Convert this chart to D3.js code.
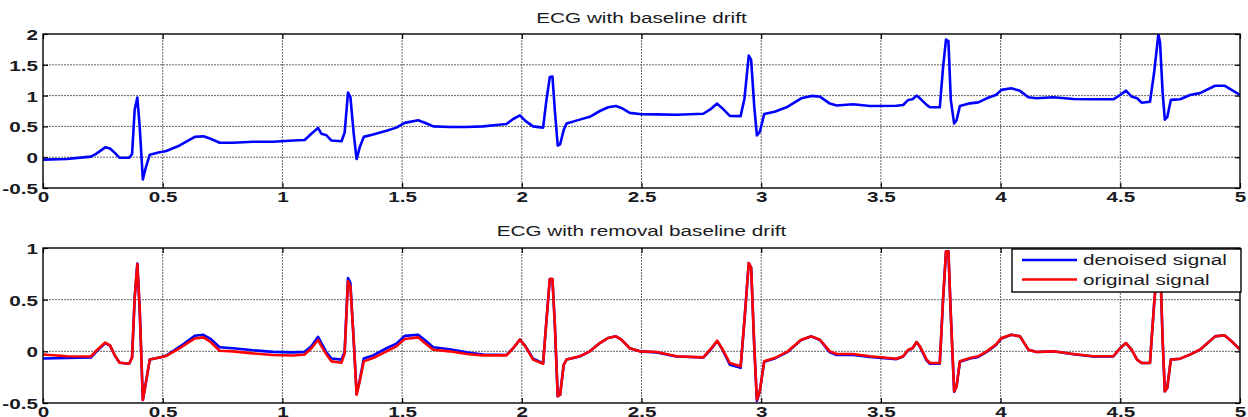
<!DOCTYPE html>
<html><head>
<meta charset="utf-8">
<script src="https://d3js.org/d3.v7.min.js"></script>
<style>
  body { margin: 0; background: #fff; }
  text { font-family: "Liberation Sans", Arial, sans-serif; fill: #1a1a22; }
  line.grid { stroke: #666; stroke-width: 1px; stroke-dasharray: 2,1; }
  .axis path { stroke: none; }
  .axis line { stroke: #000; stroke-width: 1.2px; }
</style>
</head>
<body>
<svg id="chart" width="1248" height="417"></svg>
<script>
// time (s) of each sampled point, shared by all three series
const time = [0.00,0.10,0.20,0.22,0.26,0.28,0.30,0.32,0.36,0.372,0.383,0.394,0.404,0.417,0.430,0.446,0.487,0.515,0.571,0.634,
  0.670,0.700,0.738,0.794,0.877,0.961,1.045,1.093,1.121,1.149,1.163,1.184,1.205,1.247,1.260,1.274,1.284,1.298,1.310,1.323,
  1.340,1.379,1.435,1.476,1.511,1.567,1.595,1.630,1.699,1.769,1.838,1.936,1.964,1.992,2.015,2.047,2.089,2.103,2.117,2.128,
  2.138,2.150,2.160,2.175,2.187,2.242,2.284,2.326,2.361,2.393,2.416,2.451,2.493,2.563,2.646,2.758,2.792,2.816,2.836,2.869,
  2.914,2.930,2.948,2.958,2.971,2.982,2.994,3.0125,3.056,3.111,3.167,3.210,3.245,3.287,3.315,3.384,3.454,3.565,3.593,3.614,
  3.632,3.649,3.663,3.691,3.705,3.746,3.760,3.772,3.782,3.792,3.806,3.816,3.830,3.872,3.907,3.942,3.980,4.004,4.045,4.081,
  4.116,4.150,4.220,4.304,4.387,4.471,4.499,4.524,4.547,4.570,4.589,4.624,4.641,4.659,4.666,4.677,4.686,4.696,4.711,4.750,
  4.791,4.833,4.896,4.935,4.965,5.000];

// top panel: ECG with baseline drift
const drifted = [-0.04,-0.03,0.01,0.05,0.16,0.14,0.07,-0.01,-0.01,0.05,0.77,0.97,0.49,-0.36,-0.16,0.04,0.08,0.10,0.19,0.33,
  0.34,0.30,0.235,0.235,0.25,0.25,0.27,0.28,0.38,0.475,0.38,0.355,0.27,0.26,0.40,1.05,0.98,0.38,-0.03,0.16,
  0.33,0.37,0.43,0.48,0.557,0.60,0.56,0.50,0.49,0.49,0.50,0.54,0.62,0.68,0.59,0.50,0.48,0.93,1.30,1.31,
  0.765,0.19,0.21,0.44,0.546,0.61,0.656,0.75,0.81,0.83,0.80,0.72,0.70,0.695,0.69,0.705,0.79,0.87,0.80,0.67,
  0.667,0.95,1.65,1.58,0.82,0.355,0.41,0.70,0.738,0.82,0.956,0.995,0.984,0.87,0.84,0.86,0.83,0.835,0.847,0.93,
  0.94,1.00,0.956,0.85,0.81,0.81,1.475,1.91,1.885,0.93,0.546,0.60,0.83,0.874,0.89,0.956,1.01,1.093,1.12,1.077,
  0.973,0.956,0.973,0.945,0.94,0.94,1.01,1.08,0.984,0.956,0.885,0.90,1.366,1.995,1.86,1.04,0.61,0.65,0.93,0.94,
  1.01,1.04,1.16,1.16,1.093,1.01];

// bottom panel: original signal (red)
const original = [-0.03,-0.048,-0.05,0.00,0.085,0.058,-0.04,-0.11,-0.12,-0.06,0.52,0.845,0.40,-0.47,-0.30,-0.08,-0.06,-0.045,0.03,0.125,
  0.135,0.09,0.006,0.00,-0.02,-0.035,-0.04,-0.03,0.03,0.11,0.05,-0.03,-0.097,-0.11,-0.02,0.68,0.63,0.10,-0.42,-0.29,
  -0.097,-0.065,0.00,0.048,0.12,0.135,0.08,0.016,0.00,-0.026,-0.039,-0.039,0.03,0.113,0.048,-0.08,-0.12,0.30,0.70,0.70,
  0.26,-0.435,-0.42,-0.13,-0.08,-0.048,0.00,0.08,0.13,0.145,0.113,0.03,0.00,-0.006,-0.048,-0.058,0.03,0.103,0.03,-0.113,
  -0.145,0.30,0.855,0.81,0.05,-0.468,-0.387,-0.097,-0.065,0.00,0.113,0.145,0.113,0.00,-0.026,-0.026,-0.048,-0.071,-0.048,0.016,
  0.03,0.09,0.048,-0.08,-0.113,-0.113,0.516,0.968,0.968,0.355,-0.387,-0.339,-0.097,-0.065,-0.048,0.00,0.065,0.13,0.161,0.145,
  0.016,-0.006,0.00,-0.026,-0.048,-0.048,0.03,0.08,0.016,-0.08,-0.113,-0.113,0.45,0.95,0.90,0.10,-0.387,-0.355,-0.08,-0.071,
  -0.032,0.016,0.145,0.155,0.097,0.016];

// bottom panel: denoised signal (blue)
const denoised = [-0.07,-0.065,-0.06,-0.01,0.08,0.055,-0.04,-0.11,-0.12,-0.06,0.52,0.85,0.40,-0.47,-0.30,-0.08,-0.06,-0.04,0.045,0.15,
  0.16,0.12,0.04,0.03,0.01,-0.005,-0.01,-0.005,0.05,0.14,0.08,-0.01,-0.07,-0.08,0.00,0.71,0.66,0.10,-0.41,-0.28,
  -0.07,-0.04,0.03,0.075,0.15,0.16,0.11,0.04,0.02,-0.01,-0.03,-0.035,0.03,0.113,0.05,-0.07,-0.115,0.30,0.70,0.70,
  0.26,-0.435,-0.42,-0.13,-0.08,-0.05,0.00,0.08,0.13,0.145,0.113,0.03,0.00,-0.01,-0.05,-0.06,0.025,0.10,0.025,-0.13,
  -0.16,0.30,0.855,0.81,0.05,-0.48,-0.39,-0.10,-0.07,-0.005,0.11,0.145,0.11,-0.01,-0.035,-0.035,-0.055,-0.075,-0.05,0.01,
  0.03,0.09,0.045,-0.09,-0.12,-0.12,0.516,0.968,0.968,0.355,-0.39,-0.34,-0.10,-0.07,-0.055,-0.005,0.06,0.125,0.16,0.145,
  0.016,-0.006,0.00,-0.028,-0.05,-0.05,0.03,0.08,0.016,-0.08,-0.113,-0.113,0.45,0.95,0.90,0.10,-0.387,-0.355,-0.08,-0.071,
  -0.032,0.016,0.145,0.155,0.097,0.016];

const xTicks = [0,0.5,1,1.5,2,2.5,3,3.5,4,4.5,5];
const yTicksTop = [-0.5,0,0.5,1,1.5,2];
const yTicksBot = [-0.5,0,0.5,1];
const titles = ["ECG with baseline drift", "ECG with removal baseline drift"];
const legendLabels = ["denoised signal", "original signal"];

const svg = d3.select("#chart");
const SX = 1.38;   // the figure is stretched horizontally
const FS = 15;

const x = d3.scaleLinear().domain([0,5]).range([43,1240]);
const yTop = d3.scaleLinear().domain([-0.5,2]).range([188,34]);
const yBot = d3.scaleLinear().domain([-0.5,1]).range([403,248]);

function label(g, px, py, str, anchor) {
  return g.append("text")
    .attr("transform", "translate(" + px + "," + py + ") scale(" + SX + ",1)")
    .attr("text-anchor", anchor)
    .style("font-size", FS + "px")
    .text(str);
}

function panel(y, yTicks, id, series, title, titleY) {
  const [y0, y1] = y.range();
  const g = svg.append("g");

  // grid
  g.selectAll("line.gx").data(xTicks.slice(1, -1)).join("line")
    .attr("class", "grid")
    .attr("x1", d => x(d)).attr("x2", d => x(d))
    .attr("y1", y1).attr("y2", y0);
  g.selectAll("line.gy").data(yTicks.slice(1, -1)).join("line")
    .attr("class", "grid")
    .attr("x1", x(0)).attr("x2", x(5))
    .attr("y1", d => y(d)).attr("y2", d => y(d));

  // axes (inward ticks on all four sides)
  const fmt = d => String(d);
  const bx = g.append("g").attr("class", "axis")
    .attr("transform", "translate(0," + y0 + ")")
    .call(d3.axisBottom(x).tickValues(xTicks).tickSize(-5).tickFormat(fmt));
  bx.selectAll("text")
    .attr("y", 14).attr("dy", 0).attr("x", 0)
    .attr("transform", "scale(" + SX + ",1)");
  g.append("g").attr("class", "axis")
    .attr("transform", "translate(0," + y1 + ")")
    .call(d3.axisTop(x).tickValues(xTicks).tickSize(-5).tickFormat(""));
  const ly = g.append("g").attr("class", "axis")
    .attr("transform", "translate(" + x(0) + ",0)")
    .call(d3.axisLeft(y).tickValues(yTicks).tickSize(-5).tickFormat(fmt));
  ly.selectAll("text")
    .attr("x", -5 / SX).attr("dy", "0.36em")
    .attr("transform", "scale(" + SX + ",1)");
  g.append("g").attr("class", "axis")
    .attr("transform", "translate(" + x(5) + ",0)")
    .call(d3.axisRight(y).tickValues(yTicks).tickSize(-5).tickFormat(""));
  g.selectAll(".axis text")
    .attr("fill", "#1a1a22")
    .style("font-size", FS + "px")
    .style("font-weight", "bold")
    .style("font-family", "'Liberation Sans', Arial, sans-serif");

  // clip
  svg.append("clipPath").attr("id", id)
    .append("rect").attr("x", x(0)).attr("y", y1)
    .attr("width", x(5) - x(0)).attr("height", y0 - y1);

  const line = d3.line().x((d, i) => x(time[i])).y(d => y(d));
  series.forEach(s => {
    g.append("path").datum(s.values)
      .attr("clip-path", "url(#" + id + ")")
      .attr("fill", "none")
      .attr("stroke", s.color)
      .attr("stroke-width", 2.6)
      .attr("stroke-linejoin", "round")
      .attr("d", line);
  });

  // frame
  g.append("rect").attr("x", x(0)).attr("y", y1)
    .attr("width", x(5) - x(0)).attr("height", y0 - y1)
    .attr("fill", "none").attr("stroke", "#000").attr("stroke-width", 1.4);

  label(svg, (x(0) + x(5)) / 2, titleY, title, "middle");
  return g;
}

panel(yTop, yTicksTop, "clipTop", [{values: drifted, color: "#0000ff"}], titles[0], 23);
panel(yBot, yTicksBot, "clipBot",
  [{values: denoised, color: "#0000ff"}, {values: original, color: "#ff0000"}], titles[1], 236);

// legend
const lg = svg.append("g");
lg.append("rect").attr("x", 1012).attr("y", 249).attr("width", 229).attr("height", 43)
  .attr("fill", "#fff").attr("stroke", "#000").attr("stroke-width", 1.4);
const legendColors = ["#0000ff", "#ff0000"];
legendLabels.forEach((l, i) => {
  const ly = 260 + i * 19.5;
  lg.append("line").attr("x1", 1022).attr("x2", 1077).attr("y1", ly).attr("y2", ly)
    .attr("stroke", legendColors[i]).attr("stroke-width", 2.6);
  label(lg, 1083, ly + 5, l, "start");
});
</script>
</body>
</html>
